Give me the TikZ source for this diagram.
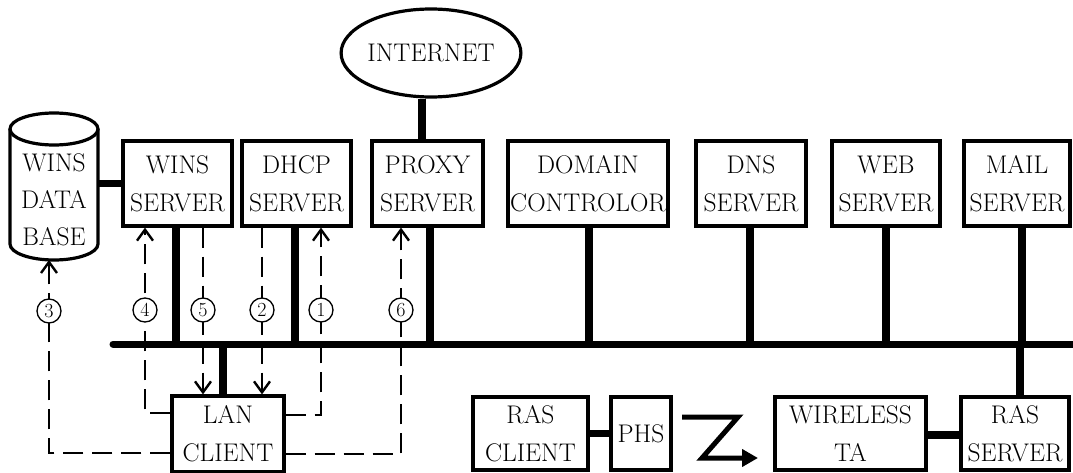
\documentclass[tikz,border=0pt]{standalone}
\usetikzlibrary{arrows.meta,calc,shapes.geometric}
\begin{document}
\begin{tikzpicture}[x=1pt,y=-1pt,
  box/.style={draw,line width=3.2pt,inner sep=0pt,align=center,
    font=\fontsize{25.5}{38}\selectfont},
  txt/.style={inner sep=0pt,align=center,font=\fontsize{25.5}{37}\selectfont},
  conn/.style={line width=7.5pt},
  busline/.style={line width=7pt},
  dsh/.style={line width=2.4pt,dash pattern=on 20pt off 9pt},
  arr/.style={dsh,-{Straight Barb[length=11pt,width=16pt,line width=2.4pt]}},
  num/.style={circle,draw,line width=1.3pt,fill=white,minimum size=24pt,
    inner sep=0pt,font=\fontsize{20}{20}\selectfont}]
\useasboundingbox (0,0) rectangle (1073,473);

% internet
\node[box,ellipse,minimum width=158pt,minimum height=88pt] (inet) at (431,53) {INTERNET};

% top servers
\node[box,minimum width=109pt,minimum height=85pt] (wins) at (177.5,183.5) {WINS\\SERVER};
\node[box,minimum width=109pt,minimum height=85pt] (dhcp) at (296.5,183.5) {DHCP\\SERVER};
\node[box,minimum width=111pt,minimum height=85pt] (proxy) at (427.5,183.5) {PROXY\\SERVER};
\node[box,minimum width=160pt,minimum height=85pt] (domain) at (588,183.5) {DOMAIN\\CONTROLOR};
\node[box,minimum width=110pt,minimum height=85pt] (dns) at (751,183.5) {DNS\\SERVER};
\node[box,minimum width=108pt,minimum height=85pt] (web) at (886,183.5) {WEB\\SERVER};
\node[box,minimum width=106pt,minimum height=85pt] (mail) at (1017,183.5) {MAIL\\SERVER};

% database cylinder
\draw[line width=3.2pt] (10,129) -- (10,244) arc[start angle=180,end angle=360,x radius=44pt,y radius=16pt] -- (98,129);
\draw[line width=3.2pt] (54,129) ellipse[x radius=44pt,y radius=16pt];
\node[txt,minimum width=88pt] (db) at (54,200) {WINS\\DATA\\BASE};
\coordinate (dbbot) at (49,260);

% bottom nodes
\node[box,minimum width=112pt,minimum height=76pt] (lan) at (228,434) {LAN\\CLIENT};
\node[box,minimum width=115pt,minimum height=73pt] (rasc) at (530.5,433.5) {RAS\\CLIENT};
\node[box,minimum width=60pt,minimum height=73pt] (phs) at (641,433.5) {PHS};
\node[box,minimum width=151pt,minimum height=73pt] (wta) at (850.5,433.5) {WIRELESS\\TA};
\node[box,minimum width=108pt,minimum height=73pt] (rass) at (1015,433.5) {RAS\\SERVER};

% dashed message arrows
\draw[arr] ([yshift=21pt]lan.west) -| ([xshift=-32.5pt]wins.south);
\draw[arr] ([xshift=25.5pt]wins.south) -- ([xshift=25.5pt]wins.south |- lan.north);
\draw[arr] ([xshift=-34.5pt]dhcp.south) -- ([xshift=-34.5pt]dhcp.south |- lan.north);
\draw[arr] ([yshift=19pt]lan.east) -| ([xshift=24.5pt]dhcp.south);
\draw[arr] ([yshift=-20pt]lan.east) -| ([xshift=-26.5pt]proxy.south);
\draw[arr] ([yshift=-19pt]lan.west) -| (dbbot);

\node[num] (n3) at (49,311) {3};
\node[num] (n4) at (145,310) {4};
\node[num] (n5) at (203,310) {5};
\node[num] (n2) at (262,310) {2};
\node[num] (n1) at (321,310) {1};
\node[num] (n6) at (401,310) {6};

% bus
\coordinate (busL) at (113,344);
\coordinate (busR) at (1076,344);
\draw[busline,line cap=round] (busL) -- (busR);
\draw[conn] ([xshift=-1.5pt]wins.south) -- ([xshift=-1.5pt]wins.south |- busL);
\draw[conn] ([xshift=-1.5pt]dhcp.south) -- ([xshift=-1.5pt]dhcp.south |- busL);
\draw[conn] ([xshift=2.5pt]proxy.south) -- ([xshift=2.5pt]proxy.south |- busL);
\draw[conn] ([xshift=1pt]domain.south) -- ([xshift=1pt]domain.south |- busL);
\draw[conn] ([xshift=-1pt]dns.south) -- ([xshift=-1pt]dns.south |- busL);
\draw[conn] (web.south) -- (web.south |- busL);
\draw[conn] ([xshift=5pt]mail.south) -- ([xshift=5pt]mail.south |- busL);
\draw[conn] ([xshift=5pt]rass.north) -- ([xshift=5pt]rass.north |- busL);
\draw[conn] ([xshift=-5pt]lan.north) -- ([xshift=-5pt]lan.north |- busL);

% other solid links
\draw[conn] ([xshift=-9pt]inet.south) -- ([xshift=-5.5pt]proxy.north);
\draw[conn] (wins.west -| db.east) -- (wins.west);
\draw[conn] (rasc.east) -- (phs.west);
\draw[conn] ([yshift=-1.5pt]wta.east) -- ([yshift=-1.5pt]rass.west);

% wireless link
\coordinate (z1) at (682,417);
\coordinate (z2) at (738,417);
\coordinate (z3) at (702,458);
\coordinate (z4) at (758,458);
\draw[line width=5pt,-{Triangle[length=16pt,width=17pt]}] (z1) -- (z2) -- (z3) -- (z4);
\end{tikzpicture}
\end{document}
